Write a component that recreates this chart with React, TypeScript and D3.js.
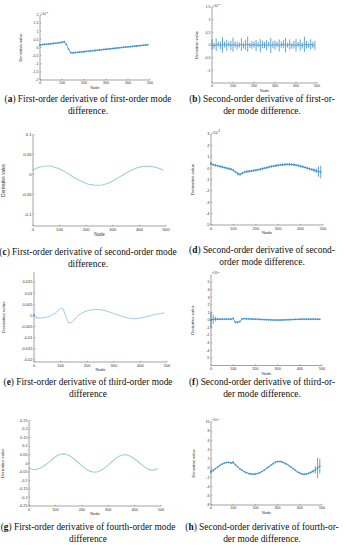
import React from "react";
import * as d3 from "d3";

// node positions shared by every panel
const nodes = [
  0, 10, 20, 30, 40, 50, 60, 70, 80, 90, 100, 110, 120, 130, 140, 150, 160, 170, 180, 190,
  200, 210, 220, 230, 240, 250, 260, 270, 280, 290, 300, 310, 320, 330, 340, 350, 360, 370, 380, 390,
  400, 410, 420, 430, 440, 450, 460, 470, 480, 490,
];
const nodeTicks = [0, 100, 200, 300, 400, 500];

// (a) first-order derivative of first-order mode difference (x10^-3)
const ticksA = [-2, -1.5, -1, -0.5, 0, 0.5, 1, 1.5, 2];
const valuesA = [
  0.15, 0.18, 0.2, 0.2, 0.22, 0.23, 0.25, 0.26, 0.28, 0.3, 0.32, 0.35, 0.2, -0.1, -0.32, -0.33, -0.31, -0.3, -0.28, -0.27,
  -0.26, -0.24, -0.23, -0.21, -0.2, -0.18, -0.17, -0.15, -0.14, -0.12, -0.11, -0.09, -0.08, -0.06, -0.05, -0.03, -0.02, 0, 0.01, 0.03,
  0.04, 0.05, 0.07, 0.08, 0.1, 0.11, 0.12, 0.14, 0.15, 0.17,
];
const spreadA = [
  0.06, 0.04, 0.05, 0.03, 0.05, 0.04, 0.06, 0.03, 0.05, 0.04, 0.05, 0.06, 0.04, 0.03, 0.05, 0.04, 0.06, 0.03, 0.05, 0.04,
  0.06, 0.05, 0.03, 0.05, 0.04, 0.06, 0.03, 0.05, 0.04, 0.05, 0.06, 0.03, 0.05, 0.04, 0.06, 0.05, 0.03, 0.05, 0.04, 0.06,
  0.03, 0.05, 0.04, 0.05, 0.06, 0.03, 0.05, 0.04, 0.06, 0.05,
];

// (b) second-order derivative of first-order mode difference (x10^-3)
const ticksB = [-1, -0.5, 0, 0.5, 1, 1.5];
const valuesB = [
  0.02, -0.03, 0.01, 0.03, -0.02, 0, 0.02, -0.01, 0.03, -0.02, 0.01, 0.02, -0.03, 0, 0.02, -0.02, 0.01, 0.03, -0.01, 0,
  0.02, -0.02, 0.01, -0.03, 0.02, 0, -0.01, 0.03, -0.02, 0.01, 0, 0.02, -0.02, 0.01, 0.03, -0.01, 0, 0.02, -0.03, 0.01,
  -0.01, 0.02, 0, -0.02, 0.03, 0.01, -0.01, 0.02, 0, -0.02,
];
const spreadB = [
  0.2, 0.12, 0.25, 0.1, 0.15, 0.3, 0.12, 0.22, 0.1, 0.18, 0.28, 0.12, 0.15, 0.1, 0.25, 0.12, 0.2, 0.3, 0.1, 0.15,
  0.12, 0.22, 0.1, 0.26, 0.15, 0.12, 0.2, 0.1, 0.3, 0.14, 0.18, 0.1, 0.24, 0.12, 0.16, 0.28, 0.1, 0.2, 0.12, 0.15,
  0.25, 0.1, 0.22, 0.12, 0.3, 0.15, 0.1, 0.2, 0.12, 0.18,
];

// (c) first-order derivative of second-order mode difference
const ticksC = [-0.1, -0.05, 0, 0.05, 0.1];
const valuesC = [
  0.011, 0.014, 0.017, 0.019, 0.02, 0.021, 0.021, 0.02, 0.018, 0.016, 0.013, 0.01, 0.006, 0.002, -0.002, -0.006, -0.01, -0.014, -0.017, -0.02,
  -0.023, -0.025, -0.026, -0.027, -0.0275, -0.0275, -0.027, -0.025, -0.023, -0.02, -0.017, -0.013, -0.009, -0.005, -0.001, 0.003, 0.007, 0.01, 0.013, 0.016,
  0.018, 0.019, 0.02, 0.02, 0.02, 0.019, 0.018, 0.016, 0.013, 0.01,
];

// (d) second-order derivative of second-order mode difference (x10^-3)
const ticksD = [-5, -4, -3, -2, -1, 0, 1, 2, 3];
const valuesD = [
  0.4, 0.3, 0.25, 0.2, 0.15, 0.1, 0.05, 0, -0.05, -0.1, -0.2, -0.35, -0.5, -0.55, -0.45, -0.35, -0.3, -0.28, -0.25, -0.22,
  -0.18, -0.14, -0.1, -0.05, 0, 0.05, 0.1, 0.15, 0.18, 0.22, 0.25, 0.28, 0.3, 0.32, 0.33, 0.33, 0.32, 0.3, 0.26, 0.22,
  0.17, 0.12, 0.06, 0, -0.06, -0.12, -0.18, -0.24, -0.3, -0.35,
];
const spreadD = [
  0.15, 0.1, 0.12, 0.08, 0.1, 0.12, 0.08, 0.1, 0.12, 0.1, 0.12, 0.1, 0.15, 0.12, 0.1, 0.08, 0.12, 0.1, 0.08, 0.1,
  0.12, 0.08, 0.1, 0.12, 0.08, 0.1, 0.12, 0.1, 0.08, 0.12, 0.1, 0.08, 0.12, 0.1, 0.08, 0.12, 0.1, 0.12, 0.08, 0.1,
  0.12, 0.1, 0.08, 0.12, 0.1, 0.12, 0.15, 0.2, 0.45, 0.55,
];

// (e) first-order derivative of third-order mode difference
const ticksE = [-0.02, -0.015, -0.01, -0.005, 0, 0.005, 0.01, 0.015];
const valuesE = [
  0, -0.001, -0.0012, -0.0012, -0.001, -0.0007, -0.0003, 0.0003, 0.001, 0.002, 0.0033, 0.0028, -0.0005, -0.0034, -0.0033, -0.0022, -0.0008, 0.0002, 0.001, 0.0016,
  0.002, 0.0023, 0.0025, 0.0026, 0.0026, 0.0025, 0.0023, 0.002, 0.0016, 0.0012, 0.0008, 0.0004, 0, -0.0004, -0.0008, -0.0011, -0.0013, -0.0015, -0.0015, -0.0014,
  -0.0012, -0.001, -0.0007, -0.0004, -0.0001, 0.0002, 0.0005, 0.0007, 0.0009, 0.0011,
];
const spreadE = [
  0.0006, 0.0003, 0, 0, 0, 0, 0, 0, 0, 0, 0, 0, 0, 0, 0, 0, 0, 0, 0, 0,
  0, 0, 0, 0, 0, 0, 0, 0, 0, 0, 0, 0, 0, 0, 0, 0, 0, 0, 0, 0,
  0, 0, 0, 0, 0, 0, 0, 0, 0, 0,
];

// (f) second-order derivative of third-order mode difference (x10^-3)
const ticksF = [-5, -4, -3, -2, -1, 0, 1, 2, 3, 4, 5];
const valuesF = [
  0, 0.1, 0.12, 0.12, 0.1, 0.1, 0.12, 0.1, 0.1, 0.12, 0.2, -0.3, -0.3, -0.2, 0.15, 0.18, 0.15, 0.15, 0.12, 0.12,
  0.1, 0.1, 0.08, 0.06, 0.05, 0.04, 0.03, 0.02, 0, 0, -0.02, 0, 0, 0.02, 0.03, 0.04, 0.05, 0.06, 0.08, 0.08,
  0.1, 0.1, 0.1, 0.12, 0.1, 0.1, 0.12, 0.1, 0.1, 0.1,
];
const spreadF = [
  1.1, 0.6, 0.3, 0.15, 0.1, 0.08, 0.1, 0.08, 0.1, 0.08, 0.12, 0.15, 0.12, 0.1, 0.1, 0.08, 0.1, 0.08, 0.1, 0.08,
  0.1, 0.08, 0.1, 0.08, 0.1, 0.08, 0.1, 0.08, 0.1, 0.08, 0.1, 0.08, 0.1, 0.08, 0.1, 0.08, 0.1, 0.08, 0.1, 0.08,
  0.1, 0.08, 0.1, 0.08, 0.1, 0.08, 0.1, 0.08, 0.1, 0.08,
];

// (g) first-order derivative of fourth-order mode difference
const ticksG = [-0.25, -0.2, -0.15, -0.1, -0.05, 0, 0.05, 0.1, 0.15, 0.2, 0.25];
const valuesG = [
  -0.028, -0.035, -0.037, -0.035, -0.03, -0.022, -0.012, -0.001, 0.012, 0.025, 0.038, 0.047, 0.053, 0.055, 0.053, 0.047, 0.038, 0.026, 0.013, 0,
  -0.014, -0.027, -0.038, -0.046, -0.051, -0.052, -0.05, -0.044, -0.035, -0.024, -0.011, 0.003, 0.017, 0.03, 0.04, 0.047, 0.05, 0.049, 0.044, 0.036,
  0.025, 0.013, 0, -0.012, -0.024, -0.033, -0.039, -0.04, -0.036, -0.031,
];

// (h) second-order derivative of fourth-order mode difference (x10^-3)
const ticksH = [-8, -6, -4, -2, 0, 2, 4, 6, 8, 10];
const valuesH = [
  -0.8, -0.5, -0.15, 0.2, 0.55, 0.85, 1.05, 1.2, 1.2, 1.1, 1.2, 0.7, 0.3, -0.2, -0.5, -0.8, -1, -1.2, -1.3, -1.35,
  -1.3, -1.2, -1, -0.75, -0.45, -0.1, 0.25, 0.6, 0.95, 1.25, 1.4, 1.4, 1.3, 1.1, 0.85, 0.55, 0.2, -0.15, -0.5, -0.85,
  -1.1, -1.3, -1.35, -1.3, -1.15, -0.95, -0.7, -0.4, 0, 0.4,
];
const spreadH = [
  0.4, 0.25, 0.15, 0.12, 0.15, 0.12, 0.15, 0.12, 0.15, 0.2, 0.35, 0.2, 0.15, 0.2, 0.15, 0.12, 0.15, 0.12, 0.15, 0.12,
  0.15, 0.12, 0.15, 0.12, 0.15, 0.12, 0.15, 0.12, 0.15, 0.12, 0.15, 0.12, 0.15, 0.12, 0.15, 0.12, 0.15, 0.12, 0.15, 0.12,
  0.15, 0.12, 0.15, 0.12, 0.15, 0.2, 0.3, 0.8, 2.2, 1.6,
];

const captionsA = ["(a) First-order derivative of first-order mode", "difference."];
const captionsB = ["(b) Second-order derivative of first-or-", "der mode difference."];
const captionsC = ["(c) First-order derivative of second-order mode", "difference."];
const captionsD = ["(d) Second-order derivative of second-", "order mode difference."];
const captionsE = ["(e) First-order derivative of third-order mode", "difference"];
const captionsF = ["(f) Second-order derivative of third-or-", "der mode difference."];
const captionsG = ["(g) First-order derivative of fourth-order mode", "difference"];
const captionsH = ["(h) Second-order derivative of fourth-or-", "der mode difference."];

const BLUE = "#3b8dcf";
const TEAL = "#a3d0d9";
const SKY = "#84bfe0";

const panels = [
  { id: "a", domain: [-2, 2], ticks: ticksA, values: valuesA, spread: spreadA, color: BLUE, exp: true, caption: captionsA,
    x0: 40, x1: 150, yT: 15, yB: 80, labelX: 22, capX: 88, capY: 102, fs: 3.6, marks: true },
  { id: "b", domain: [-1.5, 1.5], ticks: ticksB, values: valuesB, spread: spreadB, color: BLUE, exp: true, caption: captionsB,
    x0: 212, x1: 317, yT: 7, yB: 83, labelX: 198, capX: 262, capY: 102, fs: 3.6 },
  { id: "c", domain: [-0.13, 0.1], ticks: ticksC, values: valuesC, spread: null, color: TEAL, exp: false, caption: captionsC,
    x0: 33, x1: 166, yT: 134.5, yB: 226, labelX: 5, capX: 88, capY: 255, fs: 4.2 },
  { id: "d", domain: [-5, 3], ticks: ticksD, values: valuesD, spread: spreadD, color: BLUE, exp: true, caption: captionsD,
    x0: 211, x1: 323, yT: 134, yB: 225, labelX: 194, capX: 262, capY: 253, fs: 4, marks: true },
  { id: "e", domain: [-0.021, 0.0195], ticks: ticksE, values: valuesE, spread: spreadE, color: SKY, exp: false, caption: captionsE,
    x0: 34, x1: 167, yT: 272, yB: 362, labelX: 5, capX: 88, capY: 385, fs: 4 },
  { id: "f", domain: [-6, 6], ticks: ticksF, values: valuesF, spread: spreadF, color: BLUE, exp: true, caption: captionsF,
    x0: 211, x1: 322, yT: 274.5, yB: 365.5, labelX: 194, capX: 262, capY: 385, fs: 3.8, marks: true },
  { id: "g", domain: [-0.25, 0.25], ticks: ticksG, values: valuesG, spread: null, color: TEAL, exp: false, caption: captionsG,
    x0: 29, x1: 161, yT: 420.5, yB: 506, labelX: 4, capX: 88, capY: 530, fs: 3.8 },
  { id: "h", domain: [-8, 10], ticks: ticksH, values: valuesH, spread: spreadH, color: BLUE, exp: true, caption: captionsH,
    x0: 211, x1: 322, yT: 421.75, yB: 505, labelX: 195, capX: 262, capY: 530, fs: 3.6, marks: true },
];

const tickFont = "'Liberation Sans', Arial, sans-serif";
const capFont = "'Liberation Serif', serif";

function Panel({ p }: { p: any }) {
  const x = d3.scaleLinear().domain([0, 500]).range([p.x0, p.x1]);
  const y = d3.scaleLinear().domain(p.domain).range([p.yB, p.yT]);
  const line = d3
    .line<number>()
    .x((_, i) => x(nodes[i]))
    .y((d) => y(d));
  const ink = "#444";
  const [first, second] = p.caption;
  const letter = first.slice(1, 2);
  const rest = first.slice(3);
  return (
    <g>
      {/* noise bars */}
      {p.spread &&
        p.values.map((v: number, i: number) =>
          p.spread[i] > 0 ? (
            <line
              key={"s" + i}
              x1={x(nodes[i])}
              x2={x(nodes[i])}
              y1={y(v - p.spread[i])}
              y2={y(v + p.spread[i])}
              stroke={p.id === "e" ? BLUE : p.color}
              strokeWidth={0.8}
            />
          ) : null
        )}
      <path d={line(p.values) || ""} fill="none" stroke={p.color} strokeWidth={p.spread ? 0.8 : 1.1} />
      {p.marks &&
        p.values.map((v: number, i: number) => (
          <path
            key={"m" + i}
            d={`M${x(nodes[i]) - 1},${y(v)}h2M${x(nodes[i])},${y(v) - 1}v2`}
            stroke={p.color}
            strokeWidth={0.5}
          />
        ))}

      {/* y axis */}
      <line x1={p.x0} x2={p.x0} y1={p.yT} y2={p.yB} stroke={ink} strokeWidth={0.5} />
      {p.ticks.map((t: number) => (
        <g key={"y" + t}>
          <line x1={p.x0} x2={p.x0 + 1.2} y1={y(t)} y2={y(t)} stroke={ink} strokeWidth={0.4} />
          <text x={p.x0 - 1.5} y={y(t)} dy="0.35em" textAnchor="end" fontSize={p.fs} fill="#333" fontFamily={tickFont}>
            {String(t)}
          </text>
        </g>
      ))}
      {p.exp && (
        <text x={p.x0 + 0.8} y={p.yT - 0.5} fontSize={p.fs * 0.85} fill="#333" fontFamily={tickFont}>
          ×10
          <tspan dy={-1.4} fontSize={p.fs * 0.65}>
            -3
          </tspan>
        </text>
      )}

      {/* x axis */}
      <line x1={p.x0} x2={p.x1} y1={p.yB} y2={p.yB} stroke={ink} strokeWidth={0.5} />
      {nodeTicks.map((t) => (
        <g key={"x" + t}>
          <line x1={x(t)} x2={x(t)} y1={p.yB} y2={p.yB - 1.2} stroke={ink} strokeWidth={0.4} />
          <text x={x(t)} y={p.yB + p.fs + 0.8} textAnchor="middle" fontSize={p.fs} fill="#333" fontFamily={tickFont}>
            {t}
          </text>
        </g>
      ))}
      <text
        x={(p.x0 + p.x1) / 2}
        y={p.yB + p.fs * 2 + 1.4}
        textAnchor="middle"
        fontSize={p.fs * 1.05}
        fill="#333"
        fontFamily={tickFont}
      >
        Node
      </text>
      <text
        transform={`translate(${p.labelX},${(p.yT + p.yB) / 2}) rotate(-90)`}
        textAnchor="middle"
        fontSize={p.fs * 1.1}
        fill="#333"
        fontFamily={tickFont}
      >
        Derivative value
      </text>

      {/* caption */}
      <text x={p.capX} y={p.capY} textAnchor="middle" fontSize={9.4} fill="#111" fontFamily={capFont}>
        (<tspan fontWeight="bold">{letter}</tspan>){rest}
      </text>
      <text x={p.capX} y={p.capY + 11.5} textAnchor="middle" fontSize={9.4} fill="#111" fontFamily={capFont}>
        {second}
      </text>
    </g>
  );
}

export default function App() {
  return (
    <svg
      width={347}
      height={550}
      style={{ position: "absolute", left: 0, top: 0, background: "#fff" }}
    >
      {panels.map((p) => (
        <Panel key={p.id} p={p} />
      ))}
    </svg>
  );
}
